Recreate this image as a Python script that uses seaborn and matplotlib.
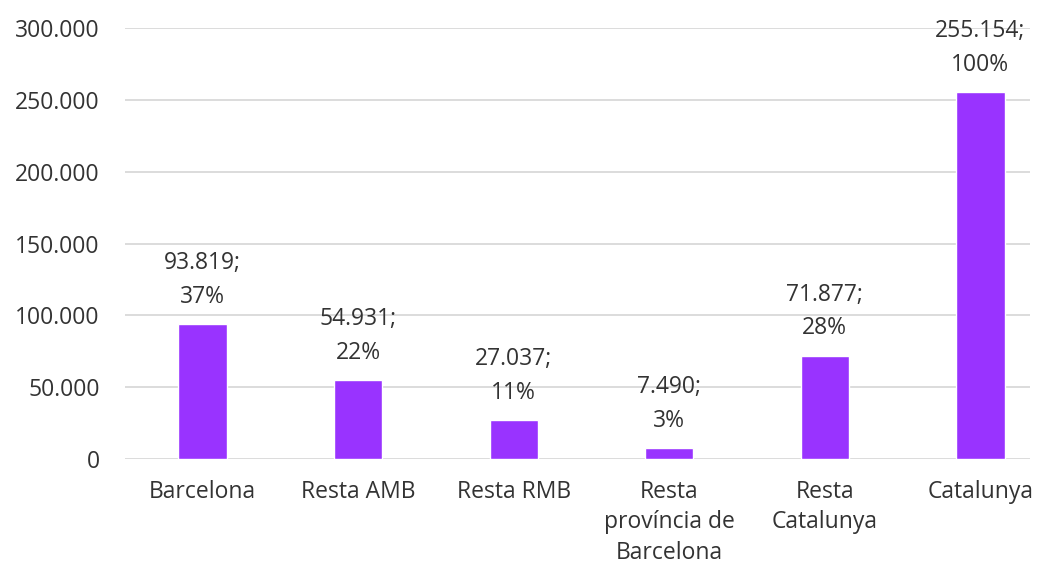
import matplotlib
matplotlib.use("Agg")
import matplotlib.pyplot as plt
import seaborn as sns
import pandas as pd
from matplotlib.ticker import FuncFormatter

categories = ["Barcelona", "Resta AMB", "Resta RMB", "Resta\nprovíncia de\nBarcelona", "Resta\nCatalunya", "Catalunya"]
values = [93819, 54931, 27037, 7490, 71877, 255154]
percents = [37, 22, 11, 3, 28, 100]

df = pd.DataFrame({"cat": categories, "val": values})

sns.set_style("white")
plt.rcParams['font.family'] = ['Open Sans', 'DejaVu Sans']

fig = plt.figure(figsize=(10.48, 5.65), dpi=100)
ax = fig.add_axes([0.119, 0.1876, 0.864, 0.7628])

sns.barplot(data=df, x="cat", y="val", color="#9933FF", width=0.31, saturation=1, ax=ax)

def fmt(v):
    return f"{int(v):,}".replace(",", ".")

# data labels: value; share
for i, (v, p) in enumerate(zip(values, percents)):
    ax.annotate(f"{fmt(v)};\n{p}%", (i, v), xytext=(0, 11), textcoords="offset points",
                ha="center", va="bottom", fontsize=16.5, color="#333333", linespacing=1.55)

ax.set_ylim(0, 300000)
ax.set_xlim(-0.5, 5.32)
ax.set_yticks(range(0, 300001, 50000))
ax.yaxis.set_major_formatter(FuncFormatter(lambda v, _: fmt(v)))
ax.yaxis.grid(True, color="#d9d9d9", linewidth=1.3)
ax.set_axisbelow(True)
sns.despine(ax=ax, left=True, bottom=True)
ax.tick_params(axis="both", length=0, labelsize=16.5, colors="#333333")
ax.tick_params(axis="y", pad=18)
ax.tick_params(axis="x", pad=15)
for t in ax.get_xticklabels():
    t.set_linespacing(1.36)
ax.set_xlabel("")
ax.set_ylabel("")

fig.savefig("out.png", dpi=100)
